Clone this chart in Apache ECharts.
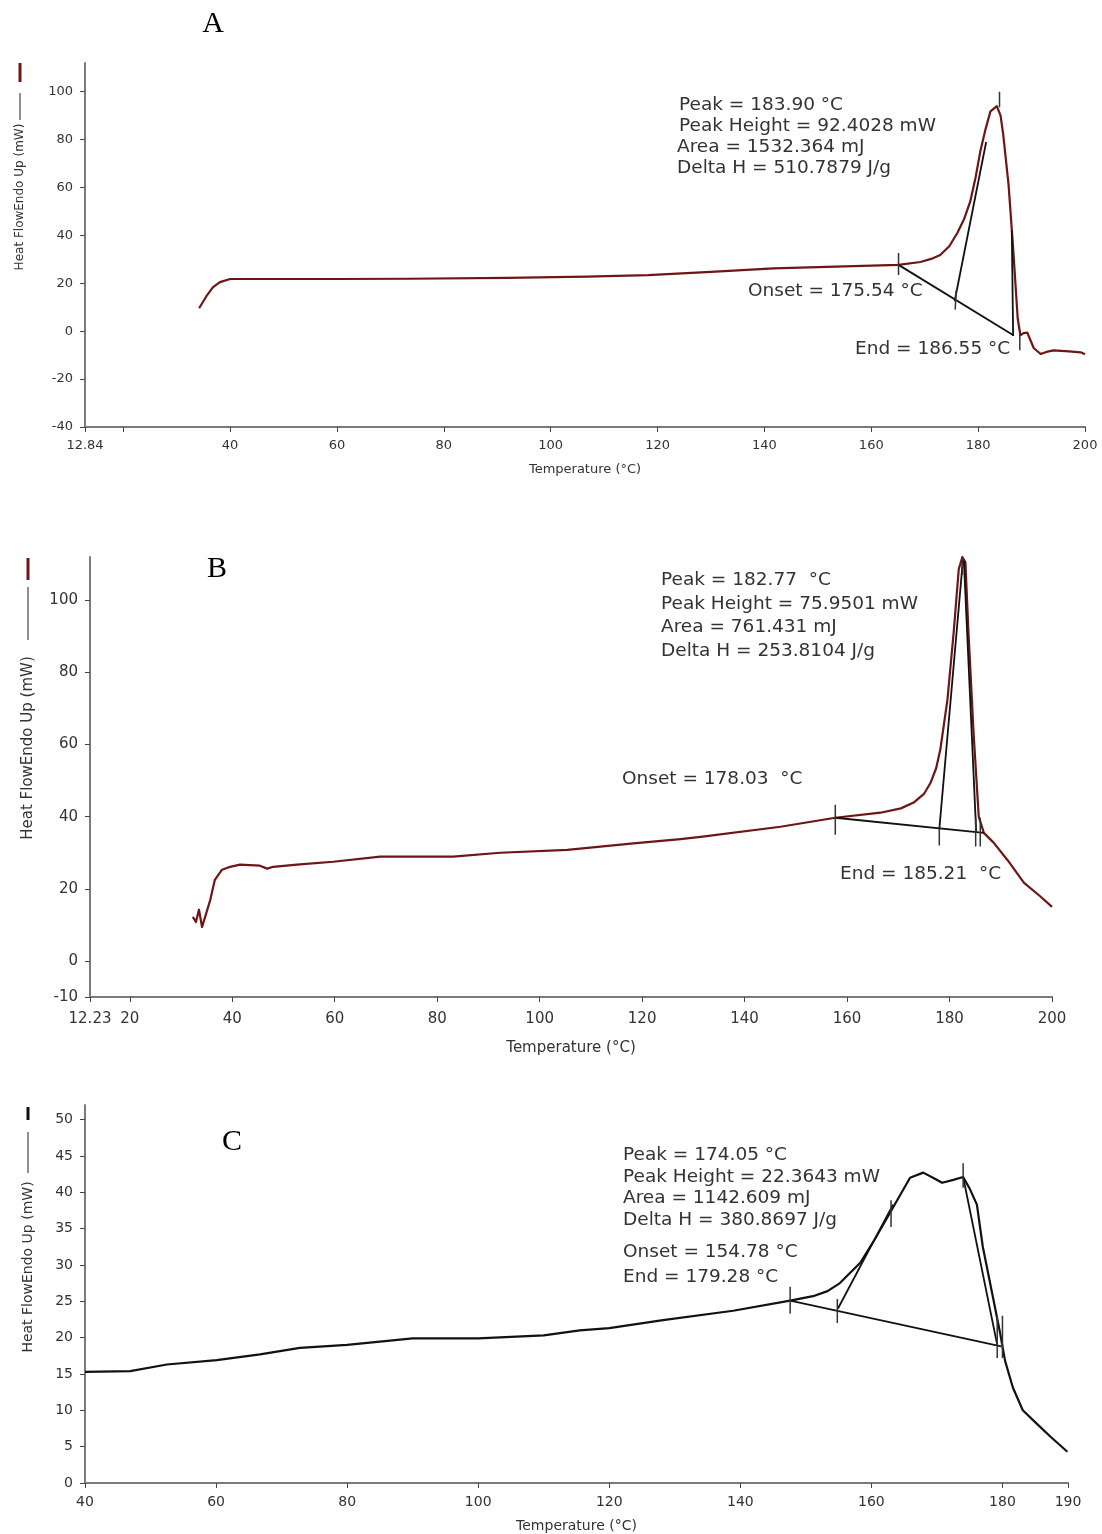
<!DOCTYPE html>
<html lang="en">
<head>
  <meta charset="UTF-8">
  <script src="https://cdn.jsdelivr.net/npm/echarts@6.0.0/dist/echarts.min.js"></script>
  <title>DSC curves A, B, C</title>
  <style>
    * { margin: 0; padding: 0; }
    html, body { width: 100%; height: 100%; background: #fff; }
    #chart { width: 1102px; height: 1534px; }
  </style>
</head>
<body>
<div id="chart"></div>
<script>
  // ---- panel A : heat flow vs temperature ----
  var aCurve = [[34.2,9.6],[35.7,15.1],[36.8,18.4],[38.1,20.5],[40,21.8],[60,21.8],[73.5,21.9],[73.7,22.2],
    [91.8,22.3],[92,22.6],[106.8,22.8],[107,23.1],[118.2,23.4],[118.4,23.7],[130,24.8],[141.7,26.2],
    [155,27.1],[165.1,27.7],[169.2,28.9],[171.2,30.2],[172.9,31.8],[174.6,35.5],[176.1,41],[177.4,47],
    [178.5,54],[179.5,64],[180.4,75],[181.4,84.5],[182.3,91.8],[183.5,94],[184.2,90],[184.7,82],
    [185.7,61],[186.6,33],[187.4,5.4],[187.9,-1.7],[188.5,-0.8],[189.2,-0.6],[190.4,-7],[191.7,-9.5],
    [193,-8.5],[194.1,-8],[197,-8.4],[199.2,-8.8],[200,-9.6]];
  var aConstruct = [
    [[165.1,27.7],[186.6,-1.7]],
    [[175.6,12.5],[181.5,79]],
    [[186.3,42],[186.55,-2]]
  ];
  var aTicks = [
    [[165.1,32.7],[165.1,23.5]],
    [[175.9,17],[175.7,9]],
    [[184,100],[184,93.5]],
    [[187.8,0.4],[187.8,-8]]
  ];
  var aXLabels = [12.84,40,60,80,100,120,140,160,180,200];
  var aXTicks = [12.84,20,40,60,80,100,120,140,160,180,200];
  var aYLabels = [-40,-20,0,20,40,60,80,100];
  var aNotes = ['Peak = 183.90 °C','Peak Height = 92.4028 mW','Area = 1532.364 mJ','Delta H = 510.7879 J/g'];
  var aOnset = 'Onset = 175.54 °C';
  var aEnd = 'End = 186.55 °C';

  // ---- panel B ----
  var bCurve = [[32.3,12.2],[32.9,10.8],[33.5,14.2],[34.1,9.4],[34.7,12.2],[35.7,16.9],[36.6,22.5],[38,25.3],
    [39.6,26.1],[41.5,26.7],[45.4,26.4],[46.8,25.6],[48,26.1],[52.6,26.7],[59.7,27.5],[68.9,28.9],
    [83.1,28.9],[92.3,30],[105.4,30.8],[118.3,32.6],[127.5,33.8],[131.4,34.4],[147,37.2],[157.7,39.7],
    [166.5,41.1],[170.5,42.3],[173,43.9],[175,46.3],[176.3,49.4],[177.4,53.5],[178.2,58.6],[179.6,72.5],
    [180.8,91],[181.8,108.6],[182.5,112],[183.1,110.5],[183.7,91],[184.7,63],[185.7,40],[186.7,35.5],
    [188.6,32.8],[191.3,28],[194.5,21.7],[197.8,17.8],[200,15]];
  var bConstruct = [
    [[157.7,39.7],[186.7,35.5]],
    [[178,36.4],[182.6,111]],
    [[182.8,111],[185.2,35.9]]
  ];
  var bTicks = [
    [[157.7,43.3],[157.7,35]],
    [[178,37],[178,32]],
    [[185.1,39.7],[185.1,31.7]],
    [[186,39.7],[186,31.7]],
    [[182.5,112],[182.5,107]]
  ];
  var bXLabels = [12.23,20,40,60,80,100,120,140,160,180,200];
  var bYLabels = [-10,0,20,40,60,80,100];
  var bNotes = ['Peak = 182.77  °C','Peak Height = 75.9501 mW','Area = 761.431 mJ','Delta H = 253.8104 J/g'];
  var bOnset = 'Onset = 178.03  °C';
  var bEnd = 'End = 185.21  °C';

  // ---- panel C ----
  var cCurve = [[40,15.3],[46.9,15.4],[52.5,16.3],[60.1,16.9],[66.7,17.7],[72.8,18.6],[80,19],[90,19.9],
    [100,19.9],[110,20.3],[115.5,21],[120,21.3],[128.2,22.4],[138.9,23.7],[147.6,25.1],[151.1,25.7],
    [153.3,26.4],[155.2,27.5],[158.3,30.3],[160.5,33.5],[162.8,37.1],[165.9,42],[167.9,42.7],[169.4,42],
    [170.8,41.3],[172.5,41.7],[174,42.1],[175,40.5],[176.1,38.3],[177,32.5],[178.6,25.3],[179.6,20.8],
    [180.4,16.8],[181.6,13.1],[183.1,10],[185.3,8.1],[187.3,6.4],[189.9,4.3]];
  var cConstruct = [
    [[147.6,25.1],[179.8,18.8]],
    [[154.9,24],[163.3,38.3]],
    [[174,42.1],[179.2,19]]
  ];
  var cTicks = [
    [[147.6,27],[147.6,23.3]],
    [[154.8,25.3],[154.8,22]],
    [[163,38.9],[163,35.2]],
    [[174,44],[174,40.6]],
    [[179.2,23],[179.2,17.2]],
    [[180,23],[180,17.2]]
  ];
  var cXLabels = [40,60,80,100,120,140,160,180,190];
  var cYLabels = [0,5,10,15,20,25,30,35,40,45,50];
  var cNotes = ['Peak = 174.05 °C','Peak Height = 22.3643 mW','Area = 1142.609 mJ','Delta H = 380.8697 J/g',
    'Onset = 154.78 °C','End = 179.28 °C'];

  var xName = 'Temperature (°C)';
  var yName = 'Heat FlowEndo Up (mW)';

  var curveRed = '#6e1515';
  var axisGray = '#7a7a7a';
  var textGray = '#333';
  var font = 'DejaVu Sans';

  function xAxis(idx, min, max, labels, ticks, fs, margin, gap) {
    return {
      type: 'value', gridIndex: idx, min: min, max: max,
      name: xName, nameLocation: 'middle', nameGap: gap,
      nameTextStyle: { color: textGray, fontFamily: font, fontSize: fs },
      axisLine: { onZero: false, lineStyle: { color: axisGray, width: 2 } },
      axisTick: { customValues: ticks, length: 5, lineStyle: { color: '#444' } },
      axisLabel: { customValues: labels, color: textGray, fontFamily: font, fontSize: fs, margin: margin },
      splitLine: { show: false }
    };
  }
  function yAxis(idx, min, max, labels, fs) {
    return {
      type: 'value', gridIndex: idx, min: min, max: max,
      axisLine: { show: true, onZero: false, lineStyle: { color: axisGray, width: 2 } },
      axisTick: { show: true, customValues: labels, length: 5, lineStyle: { color: '#444' } },
      axisLabel: { customValues: labels, color: textGray, fontFamily: font, fontSize: fs, margin: 12 },
      splitLine: { show: false }
    };
  }

  var series = [];
  function addLine(idx, data, color, width) {
    series.push({
      type: 'line', xAxisIndex: idx, yAxisIndex: idx, data: data,
      showSymbol: false, symbol: 'none', silent: true, clip: true,
      lineStyle: { color: color, width: width, join: 'round' }
    });
  }
  addLine(0, aCurve, curveRed, 2.2);
  aConstruct.forEach(function (s) { addLine(0, s, '#111', 1.8); });
  aTicks.forEach(function (s) { addLine(0, s, '#333', 1.5); });
  addLine(1, bCurve, curveRed, 2.2);
  bConstruct.forEach(function (s) { addLine(1, s, '#111', 1.8); });
  bTicks.forEach(function (s) { addLine(1, s, '#333', 1.5); });
  addLine(2, cCurve, '#111', 2.2);
  cConstruct.forEach(function (s) { addLine(2, s, '#111', 1.8); });
  cTicks.forEach(function (s) { addLine(2, s, '#333', 1.5); });

  // text helpers
  var graphics = [];
  function txt(x, y, s, fs, opts) {
    opts = opts || {};
    graphics.push({
      type: 'text', x: x, y: y, rotation: opts.rot || 0, silent: true,
      style: {
        text: s, fill: opts.color || textGray, font: fs + 'px ' + (opts.family || font),
        textAlign: opts.align || 'left', textVerticalAlign: 'middle'
      }
    });
  }
  function vline(x, y1, y2, color, w) {
    graphics.push({ type: 'line', silent: true, shape: { x1: x, y1: y1, x2: x, y2: y2 },
      style: { stroke: color, lineWidth: w } });
  }

  // panel letters
  txt(213, 24, 'A', 30, { color: '#000', family: 'Liberation Serif', align: 'center' });
  txt(217, 569, 'B', 30, { color: '#000', family: 'Liberation Serif', align: 'center' });
  txt(232, 1142, 'C', 30, { color: '#000', family: 'Liberation Serif', align: 'center' });

  // y axis names with legend line
  txt(20, 197, yName, 12, { rot: Math.PI / 2, align: 'center' });
  vline(20, 93, 120, '#444', 1.2);
  vline(20, 63, 82, curveRed, 3);
  txt(28, 748, yName, 15, { rot: Math.PI / 2, align: 'center' });
  vline(28, 587, 640, '#444', 1.2);
  vline(28, 558, 580, curveRed, 3);
  txt(28, 1267, yName, 14, { rot: Math.PI / 2, align: 'center' });
  vline(28, 1132, 1173, '#444', 1.2);
  vline(28, 1107, 1120, '#111', 3);

  // annotations
  var nfs = 18.5;
  [105, 126, 147, 168].forEach(function (y, i) { txt(i < 2 ? 679 : 677, y, aNotes[i], nfs); });
  txt(748, 291, aOnset, nfs);
  txt(855, 349, aEnd, nfs);
  [580, 604, 627, 651].forEach(function (y, i) { txt(661, y, bNotes[i], nfs); });
  txt(622, 779, bOnset, nfs);
  txt(840, 874, bEnd, nfs);
  [1155, 1177, 1198, 1220, 1252, 1277].forEach(function (y, i) { txt(623, y, cNotes[i], nfs); });

  var chart = echarts.init(document.getElementById('chart'), null, { renderer: 'canvas' });
  chart.setOption({
    animation: false,
    backgroundColor: '#fff',
    grid: [
      { left: 85, top: 63, width: 1000, height: 364 },
      { left: 90, top: 557, width: 962, height: 440 },
      { left: 85, top: 1105, width: 983, height: 382 }
    ],
    xAxis: [
      xAxis(0, 12.84, 200, aXLabels, aXTicks, 13, 12, 36),
      xAxis(1, 12.23, 200, bXLabels, bXLabels, 15, 15, 44),
      xAxis(2, 40, 190, cXLabels, cXLabels, 14, 12, 36)
    ],
    yAxis: [
      yAxis(0, -40, 112, aYLabels, 13),
      yAxis(1, -10, 112, bYLabels, 15),
      yAxis(2, 0, 52, cYLabels, 14)
    ],
    series: series,
    graphic: graphics
  });
</script>
</body>
</html>
